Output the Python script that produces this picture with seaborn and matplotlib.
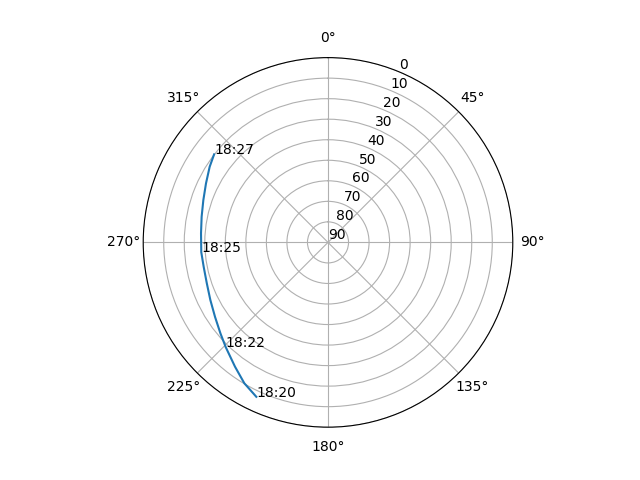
import numpy as np
import seaborn as sns
import matplotlib
matplotlib.use("Agg")
import matplotlib.pyplot as plt

# pass track (azimuth deg, elevation deg)
azimuth = [204.9, 210.7, 216.8, 224.3, 229.8, 236.6, 243.9, 251.3,
           258.9, 265.6, 274.1, 281.5, 288.7, 295.8, 302.6, 307.7]
elevation = [7.1, 10.2, 14.4, 18.7, 21.4, 24.1, 26.2, 27.7,
             28.3, 28.1, 28.0, 27.2, 25.9, 24.0, 21.6, 19.9]

# time labels and which track point they sit on
time_labels = ['18:20', '18:22', '18:25', '18:27']
label_idx = [0, 3, 9, 15]

fig = plt.figure(figsize=(6.4, 4.8), dpi=100)
ax = fig.add_subplot(111, projection='polar')
ax.set_theta_zero_location('N')
ax.set_theta_direction(-1)

theta = np.radians(azimuth)
sns.lineplot(x=theta, y=elevation, ax=ax, sort=False, estimator=None)

for lab, i in zip(time_labels, label_idx):
    ax.annotate(lab, xy=(theta[i], elevation[i]))

ax.set_yticks(range(0, 91, 10))
ax.set_ylim(90, 0)
ax.set_xlabel('')
ax.set_ylabel('')

plt.savefig('out.png', dpi=100)
